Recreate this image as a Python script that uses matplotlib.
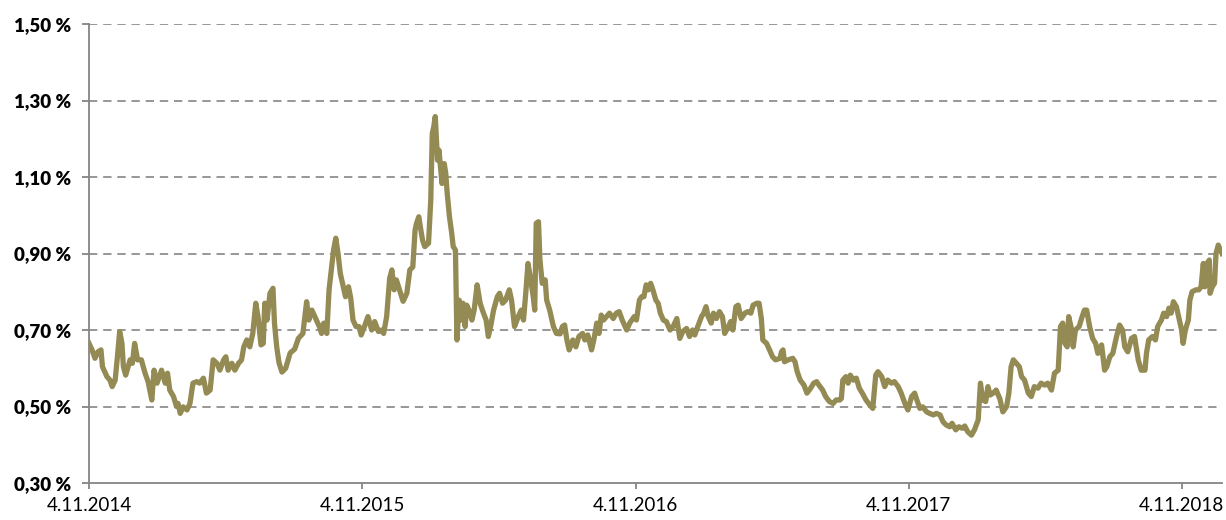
import matplotlib
matplotlib.use("Agg")
import matplotlib.pyplot as plt
import matplotlib.ticker as mticker
import pandas as pd

start_date = "2014-11-04"
end_days = 1515

# days after 4.11.2014
days = [0, 4, 8, 12, 16, 18, 24, 28, 31, 35, 38, 41, 44, 46, 49, 55, 58, 61, 65, 70,
        75, 79, 84, 87, 91, 94, 97, 102, 105, 108, 113, 117, 119, 122, 126, 131, 135, 139, 144, 148,
        153, 157, 162, 166, 171, 175, 180, 183, 186, 191, 195, 200, 204, 207, 211, 215, 219, 223, 226, 230,
        233, 235, 238, 242, 246, 248, 251, 254, 258, 263, 269, 275, 280, 286, 291, 294, 298, 302, 308, 311,
        314, 318, 321, 324, 327, 330, 333, 336, 340, 343, 347, 350, 353, 357, 361, 364, 369, 373, 378, 382,
        387, 391, 394, 398, 402, 405, 408, 411, 416, 420, 425, 429, 433, 436, 438, 441, 443, 446, 449, 454,
        457, 459, 461, 463, 466, 468, 470, 472, 475, 477, 479, 482, 485, 487, 490, 492, 495, 498, 500, 503,
        505, 508, 512, 515, 519, 523, 526, 531, 534, 537, 541, 546, 549, 553, 557, 562, 565, 569, 574, 578,
        581, 584, 587, 590, 594, 596, 598, 601, 603, 606, 610, 612, 616, 621, 625, 630, 633, 636, 639, 642,
        647, 651, 655, 660, 663, 667, 672, 675, 679, 682, 685, 688, 692, 696, 701, 705, 709, 713, 719, 723,
        729, 732, 736, 739, 742, 745, 748, 751, 754, 758, 761, 764, 768, 772, 777, 781, 786, 790, 794, 799,
        803, 807, 810, 814, 819, 822, 825, 828, 832, 835, 839, 843, 847, 850, 855, 858, 861, 865, 868, 872,
        877, 881, 885, 888, 893, 896, 899, 901, 906, 910, 914, 918, 924, 926, 928, 930, 935, 941, 944, 947,
        951, 956, 960, 965, 969, 973, 976, 981, 985, 990, 995, 999, 1004, 1006, 1008, 1012, 1015, 1018, 1022, 1026,
        1030, 1034, 1039, 1044, 1048, 1052, 1055, 1060, 1064, 1068, 1073, 1077, 1082, 1086, 1091, 1095, 1100, 1104, 1107, 1111,
        1115, 1120, 1124, 1129, 1133, 1138, 1142, 1146, 1151, 1154, 1159, 1163, 1168, 1171, 1175, 1180, 1184, 1189, 1192, 1195,
        1199, 1202, 1205, 1209, 1213, 1218, 1222, 1227, 1230, 1233, 1236, 1240, 1244, 1247, 1251, 1256, 1260, 1264, 1269, 1273,
        1278, 1282, 1287, 1291, 1296, 1299, 1302, 1305, 1308, 1310, 1314, 1316, 1319, 1324, 1328, 1331, 1334, 1338, 1342, 1346,
        1349, 1354, 1358, 1361, 1365, 1369, 1374, 1378, 1382, 1385, 1389, 1394, 1398, 1403, 1407, 1412, 1414, 1417, 1422, 1426,
        1429, 1434, 1437, 1441, 1444, 1447, 1450, 1454, 1457, 1461, 1463, 1466, 1470, 1472, 1475, 1480, 1484, 1487, 1490, 1492,
        1495, 1498, 1499, 1502, 1505, 1507, 1510, 1513, 1515]

# spread in percent
values = [0.665, 0.648, 0.626, 0.643, 0.648, 0.604, 0.578, 0.569, 0.552, 0.569, 0.630, 0.696, 0.666, 0.604, 0.582, 0.622, 0.613, 0.665, 0.622, 0.622,
          0.587, 0.565, 0.517, 0.595, 0.561, 0.578, 0.595, 0.561, 0.587, 0.543, 0.526, 0.500, 0.508, 0.482, 0.499, 0.491, 0.508, 0.561, 0.565, 0.561,
          0.574, 0.535, 0.543, 0.622, 0.613, 0.595, 0.622, 0.630, 0.595, 0.613, 0.595, 0.613, 0.622, 0.656, 0.674, 0.656, 0.691, 0.770, 0.735, 0.661,
          0.665, 0.770, 0.726, 0.796, 0.809, 0.718, 0.656, 0.615, 0.590, 0.600, 0.640, 0.650, 0.678, 0.691, 0.774, 0.726, 0.752, 0.735, 0.709, 0.691,
          0.718, 0.691, 0.805, 0.857, 0.909, 0.940, 0.900, 0.848, 0.813, 0.787, 0.813, 0.783, 0.726, 0.709, 0.709, 0.687, 0.713, 0.735, 0.700, 0.722,
          0.696, 0.700, 0.691, 0.735, 0.835, 0.857, 0.805, 0.831, 0.800, 0.775, 0.796, 0.857, 0.865, 0.961, 0.979, 0.996, 0.970, 0.935, 0.918, 0.927,
          1.040, 1.214, 1.231, 1.258, 1.144, 1.170, 1.127, 1.083, 1.135, 1.110, 1.057, 0.996, 0.953, 0.918, 0.909, 0.674, 0.778, 0.726, 0.770, 0.709,
          0.765, 0.752, 0.726, 0.752, 0.818, 0.770, 0.752, 0.726, 0.683, 0.709, 0.752, 0.787, 0.796, 0.770, 0.778, 0.805, 0.778, 0.709, 0.735, 0.752,
          0.726, 0.796, 0.874, 0.839, 0.787, 0.752, 0.979, 0.983, 0.883, 0.822, 0.831, 0.778, 0.752, 0.709, 0.691, 0.690, 0.709, 0.713, 0.674, 0.648,
          0.674, 0.656, 0.683, 0.691, 0.674, 0.687, 0.648, 0.674, 0.718, 0.691, 0.739, 0.726, 0.735, 0.744, 0.730, 0.744, 0.748, 0.726, 0.700, 0.718,
          0.735, 0.726, 0.778, 0.787, 0.787, 0.818, 0.805, 0.822, 0.805, 0.778, 0.770, 0.744, 0.726, 0.722, 0.700, 0.709, 0.730, 0.678, 0.696, 0.704,
          0.683, 0.700, 0.687, 0.709, 0.735, 0.744, 0.761, 0.735, 0.718, 0.744, 0.730, 0.748, 0.735, 0.691, 0.709, 0.722, 0.700, 0.761, 0.765, 0.730,
          0.744, 0.748, 0.744, 0.765, 0.770, 0.770, 0.730, 0.674, 0.665, 0.648, 0.630, 0.622, 0.626, 0.643, 0.648, 0.617, 0.622, 0.626, 0.617, 0.591,
          0.569, 0.556, 0.535, 0.548, 0.561, 0.565, 0.556, 0.543, 0.526, 0.513, 0.508, 0.517, 0.517, 0.521, 0.569, 0.578, 0.561, 0.582, 0.569, 0.574,
          0.548, 0.535, 0.517, 0.504, 0.495, 0.582, 0.591, 0.578, 0.552, 0.569, 0.561, 0.565, 0.552, 0.535, 0.508, 0.491, 0.526, 0.535, 0.517, 0.495,
          0.499, 0.486, 0.482, 0.478, 0.482, 0.478, 0.460, 0.452, 0.447, 0.456, 0.439, 0.447, 0.443, 0.449, 0.434, 0.425, 0.439, 0.465, 0.561, 0.517,
          0.513, 0.552, 0.530, 0.535, 0.543, 0.520, 0.486, 0.500, 0.535, 0.604, 0.622, 0.613, 0.604, 0.578, 0.569, 0.535, 0.526, 0.552, 0.548, 0.561,
          0.556, 0.561, 0.543, 0.587, 0.595, 0.709, 0.718, 0.665, 0.656, 0.735, 0.700, 0.656, 0.700, 0.709, 0.735, 0.752, 0.752, 0.709, 0.678, 0.665,
          0.639, 0.661, 0.595, 0.604, 0.630, 0.639, 0.683, 0.713, 0.700, 0.656, 0.643, 0.678, 0.683, 0.622, 0.595, 0.595, 0.639, 0.674, 0.683, 0.674,
          0.709, 0.726, 0.744, 0.735, 0.757, 0.744, 0.774, 0.761, 0.735, 0.700, 0.665, 0.700, 0.726, 0.778, 0.800, 0.805, 0.805, 0.813, 0.874, 0.813,
          0.874, 0.883, 0.796, 0.813, 0.822, 0.900, 0.922, 0.909, 0.900]

tick_dates = ["2014-11-04", "2015-11-04", "2016-11-04", "2017-11-04", "2018-11-04"]
y_ticks = [0.30, 0.50, 0.70, 0.90, 1.10, 1.30, 1.50]

start = pd.Timestamp(start_date)
dates = start + pd.to_timedelta(days, unit="D")

plt.rcParams['font.family'] = ['Lato', 'DejaVu Sans']

fig = plt.figure(figsize=(12.26, 5.2), dpi=100)
ax = fig.add_axes([89 / 1226, 1 - 483 / 520, (1222 - 89) / 1226, (483 - 24) / 520])

for y in y_ticks[1:]:
    ax.axhline(y, color='#858585', lw=1.2, ls=(0, (5, 3.5)), zorder=1)

ax.plot(dates, values, color='#948a54', lw=3.8, solid_joinstyle='round', zorder=3)

ax.set_xlim(start, start + pd.Timedelta(days=end_days))
ax.set_ylim(0.30, 1.50)

ax.set_xticks(pd.to_datetime(tick_dates))
ax.xaxis.set_major_formatter(mticker.FuncFormatter(
    lambda v, p: "{0.day}.{0.month}.{0.year}".format(matplotlib.dates.num2date(v))))
ax.set_yticks(y_ticks)
ax.yaxis.set_major_formatter(mticker.FuncFormatter(
    lambda v, p: f"{v:.2f} %".replace(".", ",")))

for s in ['top', 'right']:
    ax.spines[s].set_visible(False)
for s in ['left', 'bottom']:
    ax.spines[s].set_color('#858585')
    ax.spines[s].set_linewidth(1.3)

ax.tick_params(axis='x', colors='#858585', length=4, width=1.3, pad=6, labelsize=13.5, labelcolor='black')
ax.tick_params(axis='y', colors='#858585', length=5, width=1.3, pad=8, labelsize=13.5, labelcolor='black')
for lab in ax.get_yticklabels():
    lab.set_fontweight('heavy')

fig.savefig("out.png", dpi=100)
